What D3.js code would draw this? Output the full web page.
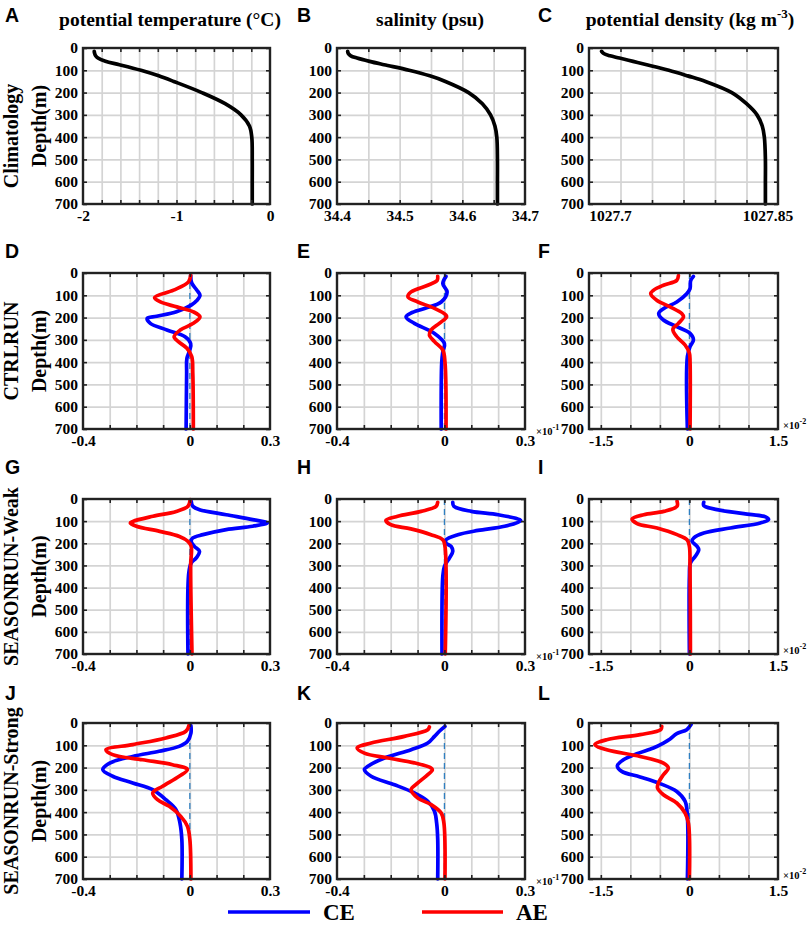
<!DOCTYPE html>
<html><head><meta charset="utf-8">
<script src="https://cdn.jsdelivr.net/npm/d3@7"></script>
<style>
html,body{margin:0;padding:0;background:#fff;}
svg{display:block;}
text{font-family:"Liberation Serif","Times New Roman",serif;font-weight:bold;fill:#000;}
.lt{font-family:"Liberation Sans",Arial,sans-serif;font-weight:bold;}
</style></head><body>
<script>
// ---------- DATA ----------
const colTitles = ["potential temperature (°C)", "salinity (psu)", "potential density (kg m"];
const rowTitles = ["Climatology", "CTRLRUN", "SEASONRUN-Weak", "SEASONRUN-Strong"];
const panelLetters = [["A","B","C"],["D","E","F"],["G","H","I"],["J","K","L"]];
const seriesNames = ["CE", "AE"];

const depthTicks = [0,100,200,300,400,500,600,700];

// climatology profiles (depth m, value)
const climDepth = [15,25,35,45,60,75,100,125,150,200,250,300,350,400,500,600,700];
const climTheta = [-1.88,-1.875,-1.865,-1.84,-1.76,-1.61,-1.38,-1.19,-1.03,-0.73,-0.48,-0.31,-0.22,-0.195,-0.19,-0.19,-0.19];
const climSalt  = [34.417,34.418,34.422,34.432,34.452,34.475,34.515,34.548,34.573,34.610,34.632,34.645,34.652,34.655,34.656,34.656,34.656];
const climDens  = [1027.692,1027.694,1027.700,1027.709,1027.722,1027.735,1027.756,1027.774,1027.791,1027.816,1027.830,1027.840,1027.845,1027.847,1027.848,1027.848,1027.848];

// anomaly profiles [depth, value]
const D_CE = [[10,0.003],[45,0.007],[75,0.025],[100,0.038],[125,0.025],[144,0.005],[174,-0.05],[194,-0.124],[204,-0.16],[226,-0.148],[256,-0.086],[286,-0.018],[316,0.003],[345,0.0],[383,-0.011],[450,-0.012],[700,-0.014]];
const D_AE = [[10,0.003],[40,-0.005],[77,-0.061],[110,-0.132],[130,-0.11],[152,-0.049],[174,0.013],[197,0.038],[226,0.013],[256,-0.036],[286,-0.059],[308,-0.043],[338,-0.011],[375,0.007],[450,0.011],[700,0.013]];
const E_CE = [[15,0.006],[48,-0.006],[85,0.010],[130,-0.012],[159,-0.074],[180,-0.125],[197,-0.143],[226,-0.112],[271,-0.037],[316,0.0],[353,-0.006],[400,-0.01],[700,-0.012]];
const E_AE = [[15,-0.025],[33,-0.027],[55,-0.062],[85,-0.124],[107,-0.136],[130,-0.099],[159,-0.037],[189,0.006],[197,0.008],[226,-0.019],[256,-0.050],[278,-0.056],[308,-0.037],[346,-0.006],[400,0.002],[700,0.006]];
const F_CE = [[15,0.068],[35,0.02],[70,0.011],[93,-0.045],[130,-0.214],[160,-0.44],[182,-0.52],[211,-0.44],[241,-0.214],[271,0.011],[301,0.068],[330,0.011],[375,-0.034],[700,-0.034]];
const F_AE = [[12,-0.186],[33,-0.214],[55,-0.44],[78,-0.61],[93,-0.655],[122,-0.553],[152,-0.327],[182,-0.13],[197,-0.10],[226,-0.186],[252,-0.28],[286,-0.214],[323,-0.073],[360,0.0],[400,0.011],[700,0.011]];
const G_CE = [[10,0.005],[33,0.011],[48,0.036],[71,0.136],[93,0.235],[108,0.29],[123,0.235],[138,0.136],[161,0.049],[176,0.011],[191,0.005],[214,0.017],[236,0.036],[266,0.024],[289,0.005],[334,-0.004],[700,-0.007]];
const G_AE = [[3,0.001],[33,-0.007],[56,-0.051],[78,-0.138],[101,-0.213],[108,-0.223],[123,-0.2],[146,-0.113],[169,-0.039],[191,-0.007],[214,0.005],[300,0.003],[700,0.008]];
const H_CE = [[15,0.031],[33,0.035],[56,0.10],[71,0.20],[93,0.28],[98,0.284],[123,0.224],[142,0.125],[161,0.05],[184,0.006],[199,0.006],[214,0.025],[236,0.031],[266,0.019],[304,0.0],[349,-0.006],[700,-0.009]];
const H_AE = [[15,-0.025],[33,-0.031],[56,-0.087],[78,-0.174],[96,-0.218],[116,-0.2],[135,-0.125],[161,-0.05],[184,-0.006],[214,0.002],[700,0.003]];
const I_CE = [[15,0.243],[30,0.243],[48,0.468],[66,0.92],[81,1.29],[93,1.34],[108,1.2],[131,0.694],[154,0.243],[176,0.073],[191,0.045],[214,0.13],[229,0.158],[259,0.1],[289,0.017],[350,0.0],[700,0.0]];
const I_AE = [[10,-0.209],[33,-0.209],[56,-0.435],[71,-0.773],[90,-0.97],[111,-0.886],[131,-0.547],[161,-0.209],[184,-0.04],[214,0.0],[300,0.01],[700,0.017]];
const J_CE = [[12,0.004],[45,0.004],[82,-0.009],[105,-0.04],[127,-0.115],[150,-0.214],[180,-0.3],[209,-0.326],[239,-0.289],[269,-0.214],[299,-0.139],[344,-0.09],[389,-0.052],[449,-0.037],[523,-0.03],[700,-0.03]];
const J_AE = [[7,-0.002],[37,-0.015],[67,-0.09],[97,-0.214],[120,-0.314],[142,-0.289],[165,-0.177],[187,-0.065],[209,-0.009],[239,-0.04],[284,-0.102],[314,-0.139],[344,-0.121],[374,-0.077],[419,-0.034],[464,-0.009],[523,0.0],[700,0.004]];
const K_CE = [[15,0.002],[37,-0.019],[60,-0.037],[90,-0.062],[120,-0.124],[157,-0.223],[194,-0.285],[209,-0.298],[239,-0.273],[277,-0.186],[314,-0.112],[351,-0.062],[396,-0.037],[449,-0.029],[520,-0.025],[700,-0.025]];
const K_AE = [[18,-0.056],[30,-0.062],[60,-0.149],[90,-0.273],[112,-0.325],[135,-0.298],[157,-0.211],[179,-0.112],[202,-0.05],[210,-0.045],[232,-0.062],[269,-0.099],[299,-0.124],[337,-0.099],[366,-0.05],[404,-0.012],[449,-0.002],[700,0.002]];
const L_CE = [[7,0.028],[30,-0.045],[48,-0.214],[72,-0.327],[90,-0.44],[112,-0.61],[138,-0.89],[165,-1.117],[192,-1.22],[217,-1.146],[242,-0.835],[272,-0.497],[307,-0.214],[351,-0.073],[419,-0.034],[700,-0.034]];
const L_AE = [[15,-0.468],[30,-0.485],[52,-0.835],[75,-1.4],[97,-1.6],[120,-1.4],[150,-0.835],[180,-0.44],[202,-0.356],[232,-0.44],[269,-0.525],[292,-0.54],[322,-0.44],[359,-0.214],[404,-0.073],[449,-0.017],[700,0.0]];

// x-axis tick values / labels
const thetaLabels = [-2,-1,0];           const thetaLabelText = ["-2","-1","0"];
const saltLabels  = [34.4,34.5,34.6,34.7]; const saltLabelText = ["34.4","34.5","34.6","34.7"];
const densLabels  = [1027.7,1027.85];    const densLabelText = ["1027.7","1027.85"];
const anomLabels  = [-0.4,0,0.3];        const anomLabelText = ["-0.4","0","0.3"];
const anomDLabels = [-1.5,0,1.5];        const anomDLabelText = ["-1.5","0","1.5"];
const thetaGrid = [-1.8,-1.6,-1.4,-1.2,-1,-0.8,-0.6,-0.4,-0.2];
const saltGrid  = [34.45,34.5,34.55,34.6,34.65];
const densGrid  = [1027.71,1027.74,1027.77,1027.80,1027.83];
const anomGrid  = [-0.3,-0.2,-0.1,0,0.1,0.2];
const anomDGrid = [-1.5,-1,-0.5,0,0.5,1.0];

// ---------- LAYOUT ----------
const W = 809, H = 933;
const cols = [{x0:83,x1:270},{x0:337,x1:525},{x0:589,x1:778}];
const rows = [{y0:48,y1:204},{y0:273,y1:429},{y0:499,y1:654},{y0:723,y1:879}];
const letterY = [22,258,474,700];
const letterX = [5,297,538];
const rowTitleShift = [10,0,0,0];
const BLUE = "#0000ff", RED = "#ff0000";

const svg = d3.select("body").append("svg").attr("width",W).attr("height",H);

function zipProfile(d, v){ return d.map((dd,i)=>[dd, v[i]]); }

const panels = [
  [{dom:[-2,0], grid:thetaGrid, lab:thetaLabels, labT:thetaLabelText, series:[{d:zipProfile(climDepth,climTheta),c:"#000"}]},
   {dom:[34.4,34.7], grid:saltGrid, lab:saltLabels, labT:saltLabelText, series:[{d:zipProfile(climDepth,climSalt),c:"#000"}]},
   {dom:[1027.68,1027.86], grid:densGrid, lab:densLabels, labT:densLabelText, series:[{d:zipProfile(climDepth,climDens),c:"#000"}]}],
  [{dom:[-0.4,0.3], grid:anomGrid, lab:anomLabels, labT:anomLabelText, zero:true, series:[{d:D_CE,c:BLUE},{d:D_AE,c:RED}]},
   {dom:[-0.4,0.3], grid:anomGrid, lab:anomLabels, labT:anomLabelText, zero:true, exp:"-1", series:[{d:E_CE,c:BLUE},{d:E_AE,c:RED}]},
   {dom:[-1.7,1.5], grid:anomDGrid, lab:anomDLabels, labT:anomDLabelText, zero:true, exp:"-2", series:[{d:F_CE,c:BLUE},{d:F_AE,c:RED}]}],
  [{dom:[-0.4,0.3], grid:anomGrid, lab:anomLabels, labT:anomLabelText, zero:true, series:[{d:G_CE,c:BLUE},{d:G_AE,c:RED}]},
   {dom:[-0.4,0.3], grid:anomGrid, lab:anomLabels, labT:anomLabelText, zero:true, exp:"-1", series:[{d:H_CE,c:BLUE},{d:H_AE,c:RED}]},
   {dom:[-1.7,1.5], grid:anomDGrid, lab:anomDLabels, labT:anomDLabelText, zero:true, exp:"-2", series:[{d:I_CE,c:BLUE},{d:I_AE,c:RED}]}],
  [{dom:[-0.4,0.3], grid:anomGrid, lab:anomLabels, labT:anomLabelText, zero:true, series:[{d:J_CE,c:BLUE},{d:J_AE,c:RED}]},
   {dom:[-0.4,0.3], grid:anomGrid, lab:anomLabels, labT:anomLabelText, zero:true, exp:"-1", series:[{d:K_CE,c:BLUE},{d:K_AE,c:RED}]},
   {dom:[-1.7,1.5], grid:anomDGrid, lab:anomDLabels, labT:anomDLabelText, zero:true, exp:"-2", series:[{d:L_CE,c:BLUE},{d:L_AE,c:RED}]}]
];

panels.forEach((row, ri) => row.forEach((p, ci) => {
  const C = cols[ci], R = rows[ri];
  const x = d3.scaleLinear().domain(p.dom).range([C.x0, C.x1]);
  const y = d3.scaleLinear().domain([0,700]).range([R.y0, R.y1]);
  const g = svg.append("g");
  const h = R.y1 - R.y0, w = C.x1 - C.x0;

  // grid
  const gx = g.append("g").attr("transform",`translate(0,${R.y1})`)
    .call(d3.axisBottom(x).tickValues(p.grid).tickSize(-h).tickFormat(""));
  const gy = g.append("g").attr("transform",`translate(${C.x0},0)`)
    .call(d3.axisLeft(y).tickValues([100,200,300,400,500,600]).tickSize(-w).tickFormat(""));
  [gx,gy].forEach(a=>{ a.select(".domain").remove(); a.selectAll("line").attr("stroke","#d4d4d4").attr("stroke-width",1.7); });

  // zero line
  if (p.zero) {
    g.append("line").attr("x1",x(0)).attr("x2",x(0)).attr("y1",R.y0).attr("y2",R.y1)
      .attr("stroke","#2f7fc1").attr("stroke-width",1.3).attr("stroke-dasharray","6,4");
  }

  // curves
  const line = d3.line().x(d=>x(d[1])).y(d=>y(d[0])).curve(d3.curveCatmullRom.alpha(0.5));
  p.series.forEach(s => {
    g.append("path").datum(s.d).attr("d", line).attr("fill","none")
      .attr("stroke", s.c).attr("stroke-width", 3.7).attr("stroke-linejoin","round").attr("stroke-linecap","round");
  });

  // inner tick marks
  const tk = 4;
  const tb = g.append("g").attr("transform",`translate(0,${R.y1})`).call(d3.axisBottom(x).tickValues(p.grid).tickSize(-tk).tickFormat(""));
  const tt = g.append("g").attr("transform",`translate(0,${R.y0})`).call(d3.axisTop(x).tickValues(p.grid).tickSize(-tk).tickFormat(""));
  const tl = g.append("g").attr("transform",`translate(${C.x0},0)`).call(d3.axisLeft(y).tickValues(depthTicks).tickSize(-tk).tickFormat(""));
  const tr = g.append("g").attr("transform",`translate(${C.x1},0)`).call(d3.axisRight(y).tickValues(depthTicks).tickSize(-tk).tickFormat(""));
  [tb,tt,tl,tr].forEach(a=>{ a.select(".domain").remove(); a.selectAll("line").attr("stroke","#222").attr("stroke-width",1.6); });

  // box
  g.append("rect").attr("x",C.x0).attr("y",R.y0).attr("width",w).attr("height",h)
    .attr("fill","none").attr("stroke","#222").attr("stroke-width",2.4);

  // tick labels
  const lx = g.append("g").attr("transform",`translate(0,${R.y1})`)
    .call(d3.axisBottom(x).tickValues(p.lab).tickSize(0).tickPadding(6).tickFormat((d,i)=>p.labT[i]));
  const ly = g.append("g").attr("transform",`translate(${C.x0},0)`)
    .call(d3.axisLeft(y).tickValues(depthTicks).tickSize(0).tickPadding(5).tickFormat(d=>String(d)));
  [lx,ly].forEach(a=>{ a.select(".domain").remove();
    a.selectAll("text").attr("font-family","'Liberation Serif','Times New Roman',serif").attr("font-weight","bold").attr("font-size",15.5).attr("fill","#000"); });

  // exponent label (×10^n) next to the lower right corner
  if (p.exp) {
    const ex = ci === 1 ? 536 : 783;
    const ey = ci === 1 ? R.y1 + 6 : R.y1 - 0.5;
    const t = g.append("text").attr("x", ex).attr("y", ey).attr("font-size", 10.5).attr("font-weight","normal");
    t.append("tspan").text("×10");
    t.append("tspan").attr("dy", -5).attr("font-size", 8).text(p.exp);
  }

  // panel letter
  svg.append("text").attr("class","lt").attr("x", letterX[ci]).attr("y", letterY[ri])
    .attr("font-size", 19.5).text(panelLetters[ri][ci]);

  // y label
  if (ci === 0) {
    const cy = (R.y0 + R.y1)/2;
    svg.append("text").attr("transform",`translate(46,${cy}) rotate(-90)`).attr("text-anchor","middle")
      .attr("font-size",20).text("Depth(m)");
    svg.append("text").attr("transform",`translate(18,${cy + rowTitleShift[ri]}) rotate(-90)`).attr("text-anchor","middle")
      .attr("font-size",20).text(rowTitles[ri]);
  }
}));

// column titles
const titleX = [170, 430, 690];
colTitles.forEach((t,i)=>{
  const tx = svg.append("text").attr("x", titleX[i]).attr("y", 26).attr("text-anchor","middle").attr("font-size",19.5);
  tx.append("tspan").text(t);
  if (i === 2) {
    tx.append("tspan").attr("dy",-8).attr("font-size",13).text("-3");
    tx.append("tspan").attr("dy",8).text(")");
  }
});

// legend
const legY = 912;
const legItems = [{x1:228,x2:310,tx:323,c:BLUE,n:seriesNames[0]},{x1:422,x2:503,tx:516,c:RED,n:seriesNames[1]}];
legItems.forEach(l=>{
  svg.append("line").attr("x1",l.x1).attr("x2",l.x2).attr("y1",legY).attr("y2",legY)
    .attr("stroke",l.c).attr("stroke-width",3.4);
  svg.append("text").attr("x",l.tx).attr("y",legY+8).attr("font-size",23).text(l.n);
});
</script>
</body></html>
